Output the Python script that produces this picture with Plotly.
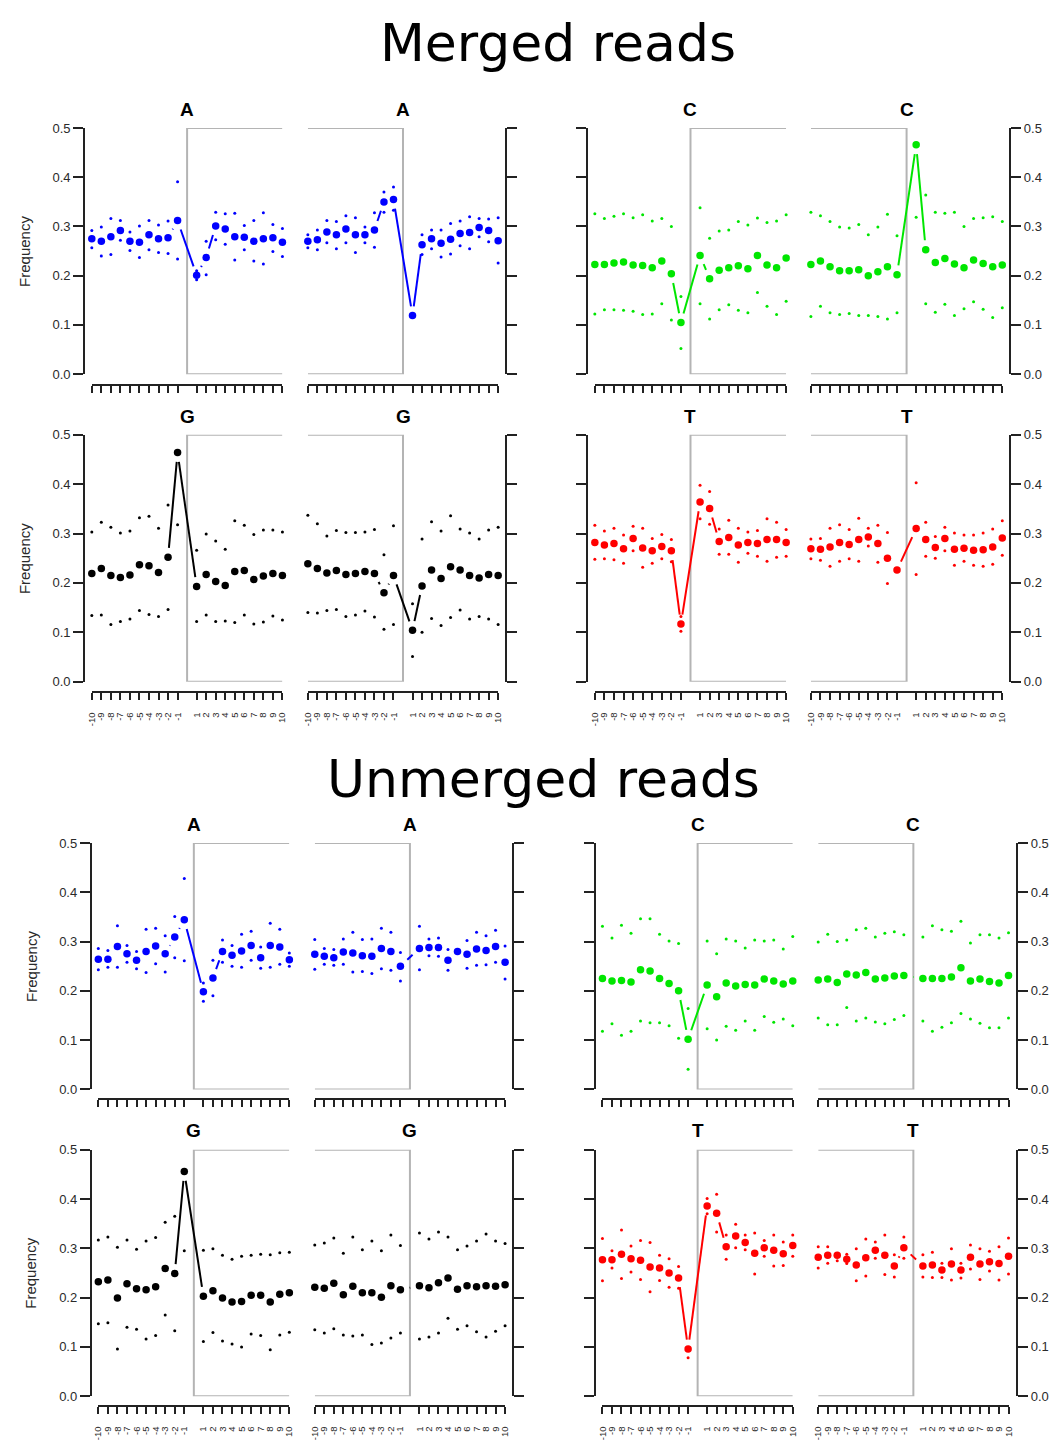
import math
import plotly.graph_objects as go

# ---------------- data ----------------
POSITIONS = [-10, -9, -8, -7, -6, -5, -4, -3, -2, -1, 1, 2, 3, 4, 5, 6, 7, 8, 9, 10]
TICK_LABELS = [str(p) for p in POSITIONS]
LINE_POSITIONS = [-3, -2, -1, 1, 2, 3]
Y_TICKS = [0.0, 0.1, 0.2, 0.3, 0.4, 0.5]
Y_TICK_LABELS = ["0.0", "0.1", "0.2", "0.3", "0.4", "0.5"]

# Merged reads
m_A1_mid = [0.275, 0.270, 0.279, 0.292, 0.270, 0.268, 0.283, 0.275, 0.277, 0.312, 0.201, 0.237, 0.301, 0.295, 0.279, 0.278, 0.270, 0.275, 0.277, 0.268]
m_A1_hi = [0.292, 0.299, 0.316, 0.312, 0.289, 0.301, 0.312, 0.303, 0.311, 0.391, 0.210, 0.270, 0.329, 0.326, 0.327, 0.302, 0.312, 0.328, 0.304, 0.296]
m_A1_lo = [0.257, 0.240, 0.243, 0.272, 0.251, 0.237, 0.253, 0.247, 0.245, 0.234, 0.192, 0.202, 0.273, 0.264, 0.232, 0.253, 0.230, 0.224, 0.249, 0.239]

m_A2_mid = [0.270, 0.273, 0.289, 0.283, 0.295, 0.283, 0.283, 0.293, 0.350, 0.355, 0.119, 0.263, 0.275, 0.266, 0.274, 0.286, 0.288, 0.298, 0.292, 0.271]
m_A2_hi = [0.283, 0.293, 0.312, 0.310, 0.322, 0.318, 0.299, 0.328, 0.370, 0.380, None, 0.283, 0.293, 0.293, 0.306, 0.311, 0.320, 0.316, 0.315, 0.318]
m_A2_lo = [0.257, 0.253, 0.267, 0.255, 0.267, 0.247, 0.267, 0.258, 0.329, 0.333, None, 0.243, 0.255, 0.238, 0.244, 0.261, 0.255, 0.279, 0.269, 0.226]

m_C1_mid = [0.223, 0.223, 0.226, 0.228, 0.222, 0.221, 0.216, 0.230, 0.204, 0.105, 0.241, 0.194, 0.211, 0.216, 0.220, 0.214, 0.241, 0.222, 0.216, 0.236]
m_C1_hi = [0.326, 0.316, 0.321, 0.326, 0.318, 0.324, 0.311, 0.316, 0.300, 0.158, 0.338, 0.276, 0.291, 0.293, 0.310, 0.303, 0.317, 0.308, 0.311, 0.324]
m_C1_lo = [0.122, 0.131, 0.131, 0.130, 0.128, 0.121, 0.122, 0.143, 0.110, 0.052, 0.143, 0.112, 0.131, 0.141, 0.130, 0.125, 0.166, 0.138, 0.121, 0.148]

m_C2_mid = [0.223, 0.230, 0.218, 0.210, 0.210, 0.212, 0.200, 0.208, 0.218, 0.202, 0.466, 0.253, 0.227, 0.235, 0.224, 0.216, 0.232, 0.225, 0.218, 0.222]
m_C2_hi = [0.329, 0.322, 0.310, 0.299, 0.297, 0.304, 0.283, 0.299, 0.325, 0.281, None, 0.364, 0.329, 0.327, 0.329, 0.300, 0.316, 0.318, 0.320, 0.310]
m_C2_lo = [0.117, 0.138, 0.125, 0.121, 0.123, 0.119, 0.119, 0.117, 0.112, 0.125, 0.319, 0.143, 0.126, 0.142, 0.119, 0.133, 0.147, 0.132, 0.115, 0.135]

m_G1_mid = [0.219, 0.229, 0.215, 0.211, 0.216, 0.237, 0.235, 0.221, 0.252, 0.464, 0.193, 0.217, 0.203, 0.195, 0.223, 0.225, 0.207, 0.214, 0.219, 0.215]
m_G1_hi = [0.303, 0.323, 0.313, 0.301, 0.305, 0.332, 0.335, 0.311, 0.358, None, 0.266, 0.299, 0.285, 0.268, 0.326, 0.317, 0.298, 0.307, 0.307, 0.303]
m_G1_lo = [0.134, 0.135, 0.116, 0.122, 0.127, 0.144, 0.136, 0.132, 0.146, 0.318, 0.122, 0.135, 0.122, 0.123, 0.120, 0.135, 0.117, 0.121, 0.133, 0.125]

m_G2_mid = [0.239, 0.229, 0.220, 0.225, 0.217, 0.219, 0.223, 0.219, 0.180, 0.215, 0.104, 0.194, 0.226, 0.209, 0.233, 0.226, 0.215, 0.210, 0.217, 0.215]
m_G2_hi = [0.337, 0.320, 0.295, 0.306, 0.302, 0.302, 0.303, 0.308, 0.257, 0.316, 0.158, 0.289, 0.324, 0.305, 0.336, 0.309, 0.301, 0.289, 0.307, 0.313]
m_G2_lo = [0.140, 0.139, 0.144, 0.146, 0.132, 0.135, 0.143, 0.131, 0.106, 0.116, 0.051, 0.100, 0.128, 0.114, 0.130, 0.145, 0.127, 0.132, 0.127, 0.116]

m_T1_mid = [0.282, 0.277, 0.280, 0.269, 0.290, 0.271, 0.265, 0.274, 0.265, 0.117, 0.364, 0.351, 0.284, 0.292, 0.277, 0.282, 0.280, 0.288, 0.288, 0.282]
m_T1_hi = [0.317, 0.305, 0.311, 0.297, 0.315, 0.311, 0.290, 0.298, 0.288, 0.132, 0.398, 0.385, 0.309, 0.327, 0.311, 0.303, 0.306, 0.330, 0.323, 0.308]
m_T1_lo = [0.248, 0.249, 0.247, 0.240, 0.265, 0.232, 0.240, 0.249, 0.243, 0.102, 0.330, 0.319, 0.258, 0.258, 0.242, 0.260, 0.254, 0.244, 0.252, 0.254]

m_T2_mid = [0.269, 0.268, 0.273, 0.282, 0.278, 0.288, 0.293, 0.280, 0.250, 0.226, 0.310, 0.288, 0.272, 0.290, 0.268, 0.270, 0.266, 0.267, 0.273, 0.291]
m_T2_hi = [0.289, 0.290, 0.311, 0.318, 0.308, 0.331, 0.311, 0.317, 0.302, None, 0.403, 0.323, 0.294, 0.313, 0.301, 0.297, 0.297, 0.301, 0.309, 0.326]
m_T2_lo = [0.249, 0.246, 0.234, 0.244, 0.249, 0.244, 0.275, 0.242, 0.199, None, 0.217, 0.254, 0.250, 0.265, 0.236, 0.244, 0.236, 0.234, 0.238, 0.256]

# Unmerged reads
u_A1_mid = [0.264, 0.264, 0.290, 0.275, 0.262, 0.280, 0.291, 0.275, 0.309, 0.344, 0.198, 0.226, 0.280, 0.272, 0.281, 0.292, 0.267, 0.292, 0.289, 0.263]
u_A1_hi = [0.286, 0.282, 0.332, 0.292, 0.280, 0.325, 0.327, 0.312, 0.351, 0.428, 0.216, 0.262, 0.303, 0.292, 0.315, 0.321, 0.289, 0.337, 0.325, 0.277]
u_A1_lo = [0.243, 0.248, 0.248, 0.258, 0.245, 0.237, 0.255, 0.238, 0.267, 0.261, 0.179, 0.190, 0.258, 0.250, 0.248, 0.262, 0.246, 0.248, 0.254, 0.250]

u_A2_mid = [0.274, 0.270, 0.267, 0.279, 0.277, 0.271, 0.270, 0.286, 0.280, 0.250, 0.286, 0.288, 0.288, 0.262, 0.280, 0.274, 0.285, 0.282, 0.290, 0.258]
u_A2_hi = [0.304, 0.286, 0.284, 0.305, 0.319, 0.304, 0.305, 0.327, 0.319, 0.278, 0.331, 0.305, 0.307, 0.284, None, 0.302, 0.319, 0.312, 0.323, 0.291]
u_A2_lo = [0.244, 0.254, 0.252, 0.254, 0.238, 0.239, 0.235, 0.245, 0.242, 0.220, 0.243, 0.271, 0.270, 0.242, None, 0.246, 0.252, 0.253, 0.258, 0.224]

u_C1_mid = [0.225, 0.220, 0.221, 0.218, 0.243, 0.240, 0.225, 0.215, 0.200, 0.102, 0.212, 0.188, 0.216, 0.210, 0.213, 0.212, 0.224, 0.220, 0.214, 0.220]
u_C1_hi = [0.331, 0.307, 0.333, 0.317, 0.346, 0.346, 0.315, 0.301, 0.296, 0.164, 0.301, 0.275, 0.305, 0.301, 0.287, 0.303, 0.301, 0.303, 0.285, 0.310]
u_C1_lo = [0.118, 0.133, 0.110, 0.118, 0.139, 0.135, 0.135, 0.129, 0.104, 0.041, 0.123, 0.100, 0.128, 0.120, 0.139, 0.120, 0.148, 0.136, 0.143, 0.129]

u_C2_mid = [0.222, 0.224, 0.217, 0.234, 0.232, 0.237, 0.224, 0.226, 0.230, 0.231, 0.225, 0.225, 0.225, 0.228, 0.247, 0.220, 0.224, 0.219, 0.216, 0.231]
u_C2_hi = [0.299, 0.315, 0.300, 0.303, 0.324, 0.327, 0.309, 0.317, 0.320, 0.314, 0.309, 0.332, 0.324, 0.321, 0.341, 0.297, 0.314, 0.314, 0.307, 0.318]
u_C2_lo = [0.145, 0.131, 0.131, 0.166, 0.139, 0.145, 0.137, 0.133, 0.142, 0.150, 0.139, 0.118, 0.126, 0.135, 0.154, 0.143, 0.134, 0.125, 0.125, 0.145]

u_G1_mid = [0.232, 0.236, 0.199, 0.228, 0.218, 0.216, 0.222, 0.259, 0.249, 0.456, 0.203, 0.214, 0.199, 0.191, 0.192, 0.205, 0.205, 0.191, 0.207, 0.210]
u_G1_hi = [0.317, 0.323, 0.302, 0.317, 0.298, 0.315, 0.322, 0.353, 0.365, None, 0.296, 0.299, 0.286, 0.278, 0.284, 0.286, 0.288, 0.287, 0.291, 0.292]
u_G1_lo = [0.147, 0.149, 0.096, 0.140, 0.136, 0.116, 0.123, 0.165, 0.133, 0.295, 0.111, 0.129, 0.112, 0.106, 0.100, 0.126, 0.123, 0.094, 0.124, 0.130]

u_G2_mid = [0.221, 0.219, 0.229, 0.206, 0.223, 0.210, 0.210, 0.201, 0.224, 0.216, 0.224, 0.220, 0.230, 0.240, 0.217, 0.224, 0.222, 0.224, 0.223, 0.226]
u_G2_hi = [0.307, 0.311, 0.321, 0.290, 0.323, 0.297, 0.315, 0.295, 0.327, 0.306, 0.331, 0.319, 0.333, 0.323, 0.297, 0.305, 0.315, 0.329, 0.315, 0.310]
u_G2_lo = [0.135, 0.128, 0.137, 0.124, 0.122, 0.124, 0.105, 0.108, 0.118, 0.128, 0.116, 0.120, 0.128, 0.158, 0.136, 0.143, 0.131, 0.120, 0.132, 0.143]

u_T1_mid = [0.277, 0.277, 0.288, 0.279, 0.276, 0.262, 0.260, 0.250, 0.240, 0.096, 0.386, 0.371, 0.303, 0.325, 0.312, 0.290, 0.301, 0.296, 0.289, 0.306]
u_T1_hi = [0.320, 0.295, 0.337, 0.305, 0.316, 0.312, 0.286, 0.279, 0.263, None, 0.401, 0.410, 0.327, 0.349, 0.327, 0.331, 0.316, 0.327, 0.313, 0.327]
u_T1_lo = [0.234, 0.260, 0.239, 0.252, 0.237, 0.212, 0.235, 0.221, 0.219, 0.078, 0.370, 0.333, 0.278, 0.301, 0.297, 0.248, 0.284, 0.264, 0.265, 0.284]

u_T2_mid = [0.282, 0.286, 0.286, 0.278, 0.266, 0.281, 0.296, 0.286, 0.264, 0.301, 0.264, 0.266, 0.256, 0.268, 0.256, 0.282, 0.268, 0.273, 0.269, 0.284]
u_T2_hi = [0.303, 0.303, 0.288, 0.288, 0.299, 0.319, 0.313, 0.327, 0.287, 0.323, 0.287, 0.292, 0.270, 0.299, 0.270, 0.307, 0.299, 0.294, 0.303, 0.321]
u_T2_lo = [0.260, 0.270, 0.275, 0.269, 0.234, 0.244, 0.280, 0.247, 0.242, 0.280, 0.242, 0.241, 0.241, 0.236, 0.240, 0.258, 0.237, 0.254, 0.236, 0.248]

NUC_COLORS = {"A": "#0000ff", "C": "#00e600", "G": "#000000", "T": "#ff0000"}

# ---------------- layout geometry (pixels) ----------------
W, H = 1063, 1452
BLOCKS = [
    {
        "title": "Merged reads", "title_x": 558, "title_y": 36, "freq_x": 18,
        "panels_x": [(86.7, 279.3), (305.0, 497.3), (595.0, 788.3), (813.3, 1006.7)],
        "axes_x": [79.0, 505.5, 587.5, 1014.7],
        "rows": [(122.3, 371.0, 382.0), (432.3, 681.7, 692.0)],
        "data": [
            [("A", m_A1_mid, m_A1_hi, m_A1_lo), ("A", m_A2_mid, m_A2_hi, m_A2_lo),
             ("C", m_C1_mid, m_C1_hi, m_C1_lo), ("C", m_C2_mid, m_C2_hi, m_C2_lo)],
            [("G", m_G1_mid, m_G1_hi, m_G1_lo), ("G", m_G2_mid, m_G2_hi, m_G2_lo),
             ("T", m_T1_mid, m_T1_hi, m_T1_lo), ("T", m_T2_mid, m_T2_hi, m_T2_lo)],
        ],
    },
    {
        "title": "Unmerged reads", "title_x": 543, "title_y": 780, "freq_x": 25,
        "panels_x": [(93.3, 286.3), (312.0, 504.3), (602.7, 795.0), (820.7, 1013.0)],
        "axes_x": [85.7, 512.7, 595.0, 1021.7],
        "rows": [(844.7, 1093.7, 1103.5), (1154.7, 1403.7, 1413.5)],
        "data": [
            [("A", u_A1_mid, u_A1_hi, u_A1_lo), ("A", u_A2_mid, u_A2_hi, u_A2_lo),
             ("C", u_C1_mid, u_C1_hi, u_C1_lo), ("C", u_C2_mid, u_C2_hi, u_C2_lo)],
            [("G", u_G1_mid, u_G1_hi, u_G1_lo), ("G", u_G2_mid, u_G2_hi, u_G2_lo),
             ("T", u_T1_mid, u_T1_hi, u_T1_lo), ("T", u_T2_mid, u_T2_hi, u_T2_lo)],
        ],
    },
]

X_MIN, X_MAX = -10, 10
Y_MIN, Y_MAX = 0.0, 0.5
BOUNDARY = 0
GAP_PX = 9.5

AXIS_COLOR = "#222222"
TEXT_COLOR = "#2a2a2a"
BOX_COLOR = "#b4b4b4"
FONT = "Liberation Sans, Arial, Helvetica, sans-serif"


def px_x(p):
    return p / W


def px_y(p):
    return 1 - p / H


def gap_segments(xs, ys, sx, sy, gap):
    """type='b'-style segments: lines between points, leaving a gap around each point."""
    out_x, out_y = [], []
    for (x1, y1), (x2, y2) in zip(zip(xs[:-1], ys[:-1]), zip(xs[1:], ys[1:])):
        dx, dy = (x2 - x1) * sx, (y2 - y1) * sy
        d = math.hypot(dx, dy)
        if d <= 2 * gap:
            continue
        t = gap / d
        out_x += [x1 + (x2 - x1) * t, x2 - (x2 - x1) * t, None]
        out_y += [y1 + (y2 - y1) * t, y2 - (y2 - y1) * t, None]
    return out_x, out_y


fig = go.Figure()
layout = {}
annotations = []
shapes = []
idx = 0

for block in BLOCKS:
    annotations.append(dict(
        text=block["title"], x=px_x(block["title_x"]), y=px_y(block["title_y"]),
        xref="paper", yref="paper", showarrow=False, xanchor="center", yanchor="middle",
        font=dict(family="DejaVu Sans, sans-serif", size=52, color="#000000")))
    for r, (y_top, y_bot, bar_y) in enumerate(block["rows"]):
        bottom_row = r == len(block["rows"]) - 1
        annotations.append(dict(
            text="Frequency", x=px_x(block["freq_x"]), y=px_y((y_top + y_bot) / 2),
            xref="paper", yref="paper", showarrow=False, textangle=-90,
            xanchor="center", yanchor="middle",
            font=dict(family=FONT, size=15, color=TEXT_COLOR)))
        for c in range(4):
            idx += 1
            nuc, mid, hi, lo = block["data"][r][c]
            color = NUC_COLORS[nuc]
            xa = "xaxis" if idx == 1 else f"xaxis{idx}"
            ya = "yaxis" if idx == 1 else f"yaxis{idx}"
            xr = "x" if idx == 1 else f"x{idx}"
            yr = "y" if idx == 1 else f"y{idx}"
            x_left, x_right = block["panels_x"][c]
            ax_px = block["axes_x"][c]
            side = "left" if c in (0, 2) else "right"
            show_ylabels = c in (0, 3)

            layout[xa] = dict(
                domain=[px_x(x_left), px_x(x_right)], range=[X_MIN, X_MAX],
                anchor="free", position=px_y(bar_y),
                tickmode="array", tickvals=POSITIONS, ticktext=TICK_LABELS,
                ticks="outside", ticklen=7, tickwidth=1.5, tickcolor=AXIS_COLOR,
                showline=True, linecolor=AXIS_COLOR, linewidth=1.5,
                showgrid=False, zeroline=False, showticklabels=bottom_row,
                tickangle=-90, ticklabelstandoff=9,
                tickfont=dict(family=FONT, size=9.5, color=TEXT_COLOR), fixedrange=True)
            layout[ya] = dict(
                domain=[px_y(y_bot), px_y(y_top)], range=[Y_MIN, Y_MAX],
                anchor="free", position=px_x(ax_px), side=side,
                tickmode="array", tickvals=Y_TICKS, ticktext=Y_TICK_LABELS,
                ticks="outside", ticklen=10, tickwidth=2, tickcolor=AXIS_COLOR,
                showline=True, linecolor=AXIS_COLOR, linewidth=2,
                showgrid=False, zeroline=False, showticklabels=show_ylabels,
                tickfont=dict(family=FONT, size=13, color=TEXT_COLOR), fixedrange=True)

            # grey bracket marking the read region
            far = X_MAX if c in (0, 2) else X_MIN
            shapes.append(dict(
                type="path", xref=xr, yref=yr, layer="below",
                path=f"M {far},{Y_MAX} L {BOUNDARY},{Y_MAX} L {BOUNDARY},{Y_MIN} L {far},{Y_MIN}",
                line=dict(color=BOX_COLOR, width=2)))

            # panel title
            annotations.append(dict(
                text=f"<b>{nuc}</b>", x=BOUNDARY, xref=xr, y=px_y(y_top - 19), yref="paper",
                showarrow=False, xanchor="center", yanchor="middle",
                font=dict(family=FONT, size=19, color="#000000")))

            # connecting line around the boundary (R type="b" style gaps)
            sx = (x_right - x_left) / (X_MAX - X_MIN)
            sy = (y_bot - y_top) / (Y_MAX - Y_MIN)
            lx = [p for p in POSITIONS if p in LINE_POSITIONS]
            ly = [mid[POSITIONS.index(p)] for p in lx]
            gx, gy = gap_segments(lx, ly, sx, sy, GAP_PX)
            fig.add_trace(go.Scatter(
                x=gx, y=gy, mode="lines", xaxis=xr, yaxis=yr,
                line=dict(color=color, width=2), hoverinfo="skip", showlegend=False))
            # quantile dots
            for series in (hi, lo):
                fig.add_trace(go.Scatter(
                    x=POSITIONS, y=series, mode="markers", xaxis=xr, yaxis=yr,
                    marker=dict(color=color, size=3, line=dict(width=0)),
                    cliponaxis=False, showlegend=False))
            # central dots
            fig.add_trace(go.Scatter(
                x=POSITIONS, y=mid, mode="markers", xaxis=xr, yaxis=yr,
                marker=dict(color=color, size=7.5, line=dict(width=0)),
                cliponaxis=False, showlegend=False))

fig.update_layout(
    width=W, height=H, autosize=False,
    margin=dict(l=0, r=0, t=0, b=0),
    paper_bgcolor="white", plot_bgcolor="white",
    showlegend=False, annotations=annotations, shapes=shapes,
    **layout)

POST = """
document.documentElement.style.margin = '0';
document.documentElement.style.overflow = 'hidden';
document.body.style.margin = '0';
document.body.style.overflow = 'hidden';
"""

fig.write_html("out.html", config={"displayModeBar": False}, post_script=POST)
